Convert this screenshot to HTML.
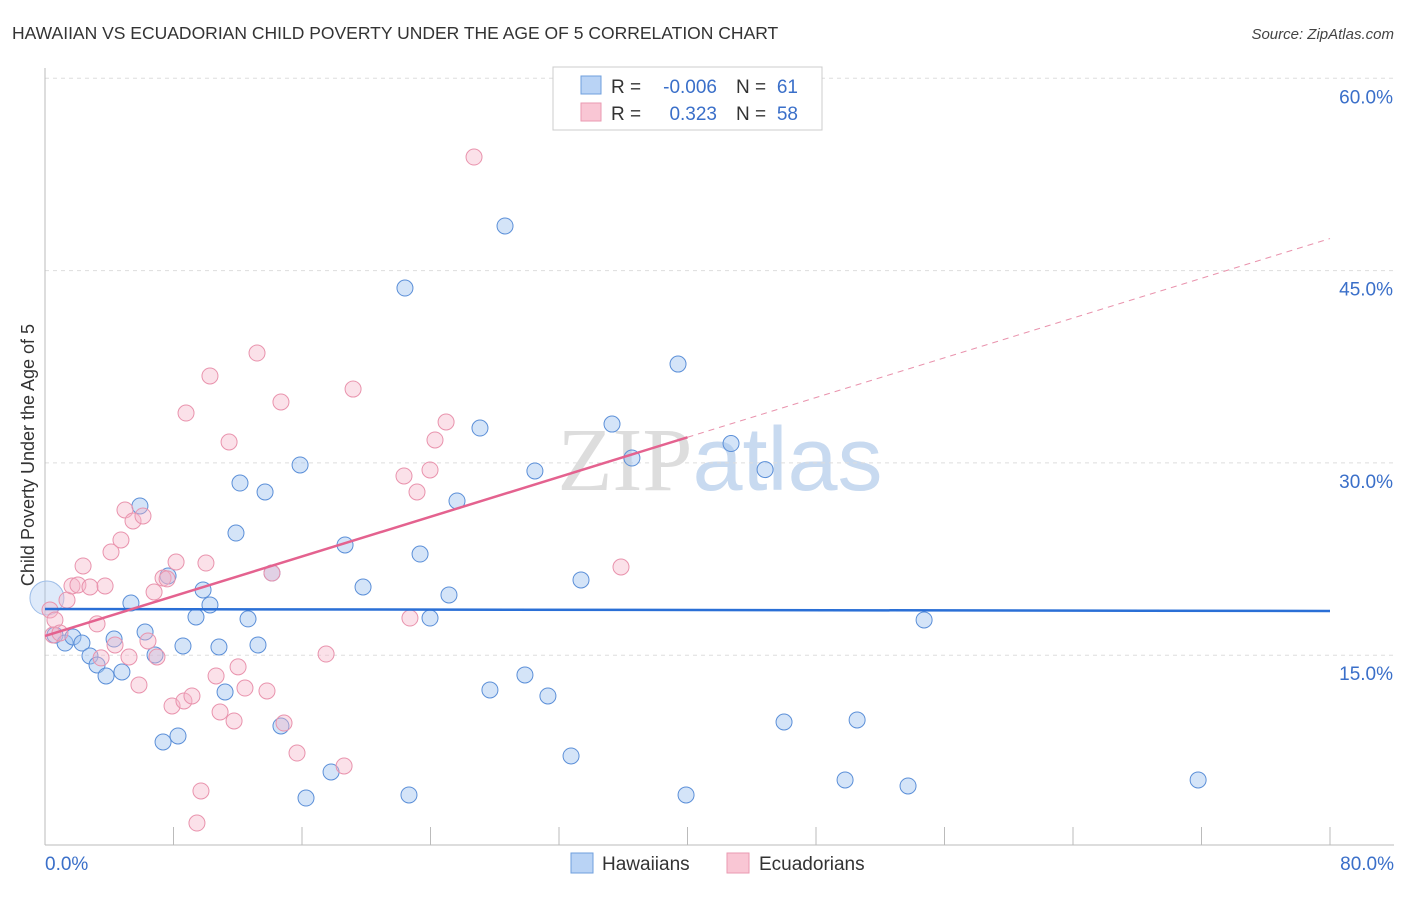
<!DOCTYPE html>
<html><head><meta charset="utf-8"><style>
body{margin:0;background:#fff;font-family:"Liberation Sans",sans-serif;}
svg text{font-family:"Liberation Sans",sans-serif;}
</style></head><body>
<svg id="chart" width="1406" height="892" xmlns="http://www.w3.org/2000/svg">
<text x="12" y="39" font-size="17.5" fill="#333">HAWAIIAN VS ECUADORIAN CHILD POVERTY UNDER THE AGE OF 5 CORRELATION CHART</text>
<text x="1394" y="39" font-size="15" fill="#444" text-anchor="end" font-style="italic">Source: ZipAtlas.com</text>
<text x="720" y="490" font-size="90" text-anchor="middle"><tspan fill="#ddd" font-family="Liberation Serif">ZIP</tspan><tspan fill="#c8daf0">atlas</tspan></text>
<g id="grid"></g>
<g id="axes"></g>
<g id="marks"></g>
<text transform="translate(34,455) rotate(-90)" font-size="18" fill="#333" text-anchor="middle">Child Poverty Under the Age of 5</text>
<g>
<rect x="553" y="67" width="269" height="63" fill="#fff" stroke="#ccc"/>
<rect x="581" y="76" width="20" height="18" fill="#b9d3f5" stroke="#6f9fdd"/>
<rect x="581" y="103" width="20" height="18" fill="#f9c6d4" stroke="#ea9ab2"/>
<text x="611" y="93" font-size="19" fill="#333">R =</text>
<text x="717" y="93" font-size="19" fill="#3a6fc9" text-anchor="end">-0.006</text>
<text x="736" y="93" font-size="19" fill="#333">N =</text>
<text x="798" y="93" font-size="19" fill="#3a6fc9" text-anchor="end">61</text>
<text x="611" y="120" font-size="19" fill="#333">R =</text>
<text x="717" y="120" font-size="19" fill="#3a6fc9" text-anchor="end">0.323</text>
<text x="736" y="120" font-size="19" fill="#333">N =</text>
<text x="798" y="120" font-size="19" fill="#3a6fc9" text-anchor="end">58</text>
</g>
<g>
<rect x="571" y="853" width="22" height="20" fill="#b9d3f5" stroke="#6f9fdd"/>
<text x="602" y="870" font-size="19" fill="#333">Hawaiians</text>
<rect x="727" y="853" width="22" height="20" fill="#f9c6d4" stroke="#ea9ab2"/>
<text x="759" y="870" font-size="19" fill="#333">Ecuadorians</text>
</g>
</svg>
<script>
const blueX=[0.12,0.62,1.25,1.74,2.30,2.80,3.24,3.80,4.30,4.79,5.35,5.91,6.23,6.85,7.35,7.66,8.28,8.59,9.40,9.84,10.27,10.83,11.21,11.89,12.14,12.64,13.26,13.70,14.13,14.69,15.88,16.25,17.81,18.68,19.80,22.41,22.66,23.35,23.97,25.15,25.65,27.08,27.70,28.64,29.88,30.50,31.31,32.75,33.37,35.30,36.54,39.41,39.91,42.71,44.83,46.01,49.81,50.56,53.73,54.73,71.79];
const blueY=[19.46,16.57,15.95,16.42,15.95,14.94,14.24,13.38,16.26,13.69,19.07,26.64,16.81,15.02,8.23,21.18,8.70,15.72,17.98,20.09,18.92,15.64,12.13,24.53,28.43,17.83,15.80,27.73,21.41,9.48,29.84,3.86,5.89,23.60,20.32,43.64,4.10,22.89,17.90,19.70,27.03,32.72,12.29,48.48,13.46,29.37,11.82,7.14,20.87,33.03,30.38,37.71,4.10,31.51,29.48,9.79,5.27,9.95,4.80,17.75,5.27];
const pinkX=[0.31,0.62,0.50,0.93,1.37,1.68,2.05,2.37,2.80,3.24,3.49,3.74,4.11,4.36,4.73,4.98,5.23,5.48,5.85,6.10,6.41,6.79,6.97,7.35,7.60,7.91,8.16,8.65,8.78,9.15,9.71,9.46,10.02,10.27,10.65,10.90,11.46,11.77,12.02,12.45,13.20,13.82,14.13,14.69,14.88,15.69,17.50,18.62,19.18,22.35,22.72,23.16,23.97,24.28,24.97,26.71,35.86];
const pinkY=[18.53,17.75,16.58,16.73,19.30,20.40,20.48,21.96,20.32,17.44,14.79,20.40,23.05,15.80,23.99,26.33,14.86,25.47,12.68,25.86,16.11,19.93,14.86,21.02,20.95,11.04,22.27,11.43,33.89,11.82,4.41,1.91,22.19,36.78,13.38,10.57,31.63,9.87,14.09,12.44,38.57,12.21,21.41,34.75,9.71,7.37,15.09,6.36,35.76,28.98,17.90,27.73,29.45,31.79,33.19,53.86,21.88];
const blueTrend=[18.6,18.45];
const pinkTrend=[16.5,47.5];
const yTicks=[15,30,45,60];
const xTickLabels=["0.0%","80.0%"];

const NS="http://www.w3.org/2000/svg";
const X=v=>45+v/80*1285;
const Y=v=>847.5-v/15*192.3;
function mk(tag,attrs,parent){const e=document.createElementNS(NS,tag);for(const k in attrs)e.setAttribute(k,attrs[k]);parent.appendChild(e);return e;}
const grid=document.getElementById('grid'),axes=document.getElementById('axes'),marks=document.getElementById('marks');
yTicks.forEach(t=>{
  const l=mk('line',{x1:45,x2:1394,y1:Y(t),y2:Y(t),stroke:'#ddd','stroke-dasharray':'4,4'},grid);
  
  
  const tx=mk('text',{x:1393,y:Y(t)+25,'font-size':19,fill:'#3a6fc9','text-anchor':'end'},axes);
  tx.textContent=t.toFixed(1)+'%';
  
  
});
const ya=mk('line',{x1:45,x2:45,y1:68,y2:845,stroke:'#bbb'},axes);


const xa=mk('line',{x1:45,x2:1394,y1:845,y2:845,stroke:'#bbb'},axes);


for(let i=1;i<=10;i++){const tk=mk('line',{x1:X(i*8),x2:X(i*8),y1:827,y2:845,stroke:'#bbb'},axes);
  
  }
[[xTickLabels[0],45,'start'],[xTickLabels[1],1394,'end']].forEach(([s,x,a])=>{
  const tx=mk('text',{x:x,y:870,'font-size':19,fill:'#3a6fc9','text-anchor':a},axes);tx.textContent=s;
  
  });
blueX.forEach((x,i)=>{
  const big=i===0;
  const c=mk('circle',{cx:X(x),cy:Y(blueY[i]),r:big?17:8,fill:big?'rgba(160,196,240,0.35)':'rgba(160,196,240,0.45)',stroke:big?'#9dbde8':'#5b8fd8','stroke-width':1},marks);
  
  
});
pinkX.forEach((x,i)=>{
  const c=mk('circle',{cx:X(x),cy:Y(pinkY[i]),r:8,fill:'rgba(246,180,200,0.4)',stroke:'#e993ad','stroke-width':1},marks);
  
  
});
const bl=mk('line',{x1:X(0),y1:Y(blueTrend[0]),x2:X(80),y2:Y(blueTrend[1]),stroke:'#2a6fd6','stroke-width':2.5},marks);


const pAt=x=>pinkTrend[0]+(pinkTrend[1]-pinkTrend[0])*x/80;
const pl=mk('line',{x1:X(0),y1:Y(pAt(0)),x2:X(40),y2:Y(pAt(40)),stroke:'#e4628f','stroke-width':2.5},marks);


const pd=mk('line',{x1:X(40),y1:Y(pAt(40)),x2:X(80),y2:Y(pAt(80)),stroke:'#e993ad','stroke-width':1,'stroke-dasharray':'6,5'},marks);


</script>
</body></html>
